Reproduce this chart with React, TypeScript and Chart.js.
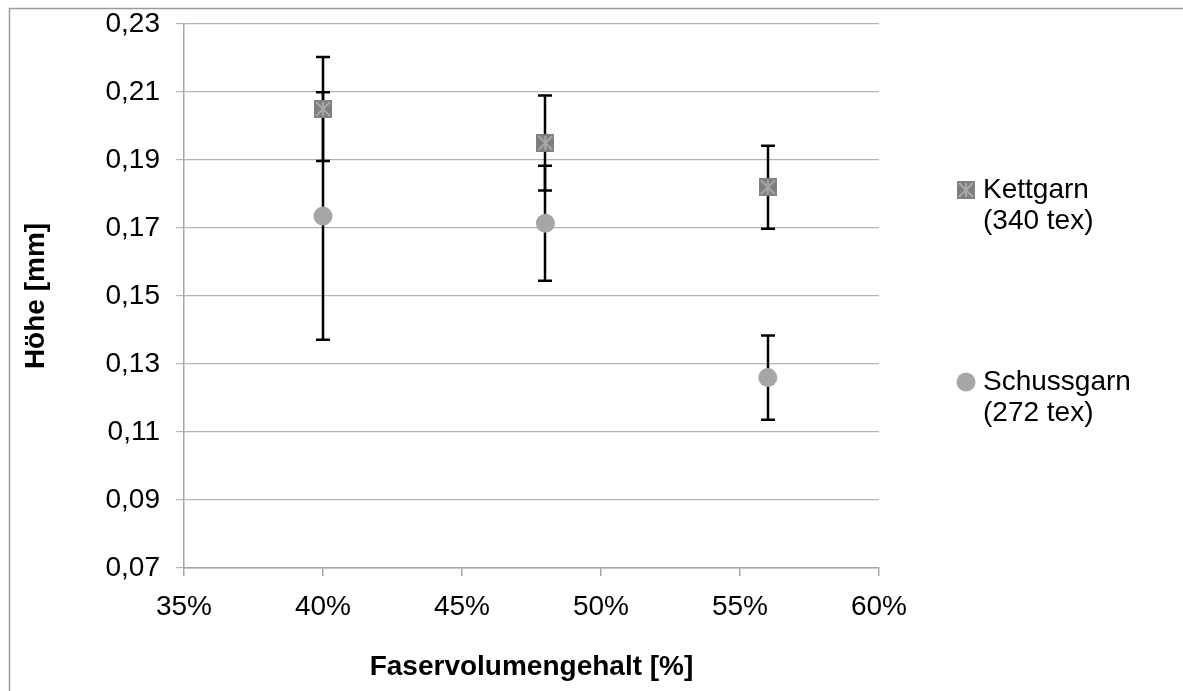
import React, { useEffect, useRef } from "react";
import { Chart, registerables } from "chart.js";

Chart.register(...registerables);

// ---- data ----
const faserGehalt = [40, 48, 56];
const kettgarnHoehe = [0.205, 0.195, 0.182];
const kettgarnFehler = [0.0153, 0.014, 0.0122];
const schussgarnHoehe = [0.1735, 0.1714, 0.126];
const schussgarnFehler = [0.0364, 0.0169, 0.0124];
const kettgarnLabel = ["Kettgarn", "(340 tex)"];
const schussgarnLabel = ["Schussgarn", "(272 tex)"];
const xTicks = [35, 40, 45, 50, 55, 60];
const yTicks = [0.07, 0.09, 0.11, 0.13, 0.15, 0.17, 0.19, 0.21, 0.23];
const xTitle = "Faservolumengehalt [%]";
const yTitle = "Höhe [mm]";

const FONT = "'Liberation Sans', Helvetica, Arial, sans-serif";
const GRID = "#b4b4b4";
const AXIS = "#a6a6a6";

function makeKettMarker(size: number): HTMLCanvasElement {
  const c = document.createElement("canvas");
  c.width = size;
  c.height = size;
  const g = c.getContext("2d")!;
  g.fillStyle = "#7f7f7f";
  g.fillRect(0, 0, size, size);
  g.strokeStyle = "#a8a8a8";
  g.lineWidth = 2;
  g.beginPath();
  g.moveTo(2, 2);
  g.lineTo(size - 2, size - 2);
  g.moveTo(size - 2, 2);
  g.lineTo(2, size - 2);
  g.moveTo(size / 2, 2);
  g.lineTo(size / 2, size - 2);
  g.stroke();
  return c;
}

const errorBarPlugin = {
  id: "errorBars",
  beforeDatasetsDraw(chart: any) {
    const { ctx, scales } = chart;
    const x = scales.x;
    const y = scales.y;
    ctx.save();
    ctx.strokeStyle = "#000";
    ctx.lineWidth = 2.5;
    chart.data.datasets.forEach((ds: any) => {
      ds.data.forEach((p: any, i: number) => {
        const e = ds.errors[i];
        const px = Math.round(x.getPixelForValue(p.x));
        const yt = y.getPixelForValue(p.y + e);
        const yb = y.getPixelForValue(p.y - e);
        ctx.beginPath();
        ctx.moveTo(px, yt);
        ctx.lineTo(px, yb);
        ctx.moveTo(px - 7, yt);
        ctx.lineTo(px + 7, yt);
        ctx.moveTo(px - 7, yb);
        ctx.lineTo(px + 7, yb);
        ctx.stroke();
      });
    });
    ctx.restore();
  },
};

const framePlugin = {
  id: "frame",
  afterDraw(chart: any) {
    const { ctx, width, height } = chart;
    ctx.save();
    ctx.strokeStyle = "#9a9a9a";
    ctx.lineWidth = 1.5;
    ctx.beginPath();
    ctx.moveTo(9.5, height + 5);
    ctx.lineTo(9.5, 8.5);
    ctx.lineTo(width + 5, 8.5);
    ctx.stroke();
    ctx.restore();
  },
};

const legendPlugin = {
  id: "customLegend",
  afterDraw(chart: any) {
    const { ctx, chartArea } = chart;
    const mx = chartArea.right + 87;
    const tx = chartArea.right + 104;
    const rows = [
      { y: 190, ds: chart.data.datasets[0] },
      { y: 382, ds: chart.data.datasets[1] },
    ];
    ctx.save();
    ctx.font = `28px ${FONT}`;
    ctx.fillStyle = "#000";
    ctx.textBaseline = "middle";
    ctx.textAlign = "left";
    rows.forEach((r) => {
      const ds = r.ds;
      if (ds.pointStyle instanceof HTMLCanvasElement) {
        const img = ds.pointStyle as HTMLCanvasElement;
        ctx.drawImage(img, mx - img.width / 2, r.y - img.height / 2);
      } else {
        ctx.fillStyle = ds.backgroundColor;
        ctx.beginPath();
        ctx.arc(mx, r.y, ds.pointRadius, 0, Math.PI * 2);
        ctx.fill();
        ctx.fillStyle = "#000";
      }
      (ds.legendLines as string[]).forEach((line, k) => {
        ctx.fillText(line, tx, r.y + k * 31);
      });
    });
    ctx.restore();
  },
};

export default function App() {
  const ref = useRef<HTMLCanvasElement | null>(null);

  useEffect(() => {
    if (!ref.current) return;
    const kettMarker = makeKettMarker(18);
    const chart = new Chart(ref.current, {
      type: "scatter",
      data: {
        datasets: [
          {
            label: kettgarnLabel.join(" "),
            data: faserGehalt.map((x, i) => ({ x, y: kettgarnHoehe[i] })),
            errors: kettgarnFehler,
            legendLines: kettgarnLabel,
            pointStyle: kettMarker,
            pointRadius: 9,
            backgroundColor: "#7f7f7f",
            borderWidth: 0,
            showLine: false,
          } as any,
          {
            label: schussgarnLabel.join(" "),
            data: faserGehalt.map((x, i) => ({ x, y: schussgarnHoehe[i] })),
            errors: schussgarnFehler,
            legendLines: schussgarnLabel,
            pointStyle: "circle",
            pointRadius: 9.5,
            backgroundColor: "#a6a6a6",
            borderWidth: 0,
            showLine: false,
          } as any,
        ],
      },
      options: {
        responsive: false,
        animation: false,
        events: [],
        layout: { padding: { left: 0, right: 304, top: 24, bottom: 0 } },
        plugins: {
          legend: { display: false },
          tooltip: { enabled: false },
          title: { display: false },
        },
        scales: {
          x: {
            type: "linear",
            min: 35,
            max: 60,
            afterBuildTicks: (s: any) => {
              s.ticks = xTicks.map((v) => ({ value: v }));
            },
            afterFit: (s: any) => {
              s.height = 123;
              s.paddingLeft = 0;
              s.paddingRight = 0;
            },
            grid: {
              drawOnChartArea: false,
              drawTicks: true,
              tickLength: 8,
              color: AXIS,
              lineWidth: 1.5,
            },
            border: { display: true, color: AXIS, width: 1.5 },
            ticks: {
              color: "#000",
              font: { family: FONT, size: 28 },
              padding: 14,
              maxRotation: 0,
              callback: (v: any) => `${v}%`,
            },
            title: {
              display: true,
              text: xTitle,
              color: "#000",
              font: { family: FONT, size: 28, weight: "bold" },
              padding: { top: 0, bottom: 7 },
            },
          },
          y: {
            type: "linear",
            min: 0.07,
            max: 0.23,
            afterBuildTicks: (s: any) => {
              s.ticks = yTicks.map((v) => ({ value: v }));
            },
            afterFit: (s: any) => {
              s.width = 184;
              s.paddingTop = 0;
              s.paddingBottom = 0;
            },
            grid: {
              drawOnChartArea: true,
              drawTicks: true,
              tickLength: 8,
              color: GRID,
              lineWidth: 1.2,
            },
            border: { display: true, color: AXIS, width: 1.5 },
            ticks: {
              color: "#000",
              font: { family: FONT, size: 28 },
              padding: 16,
              callback: (v: any) => Number(v).toFixed(2).replace(".", ","),
            },
            title: {
              display: true,
              text: yTitle,
              color: "#000",
              font: { family: FONT, size: 28, weight: "bold" },
              padding: { top: 19, bottom: 0 },
            },
          },
        },
      } as any,
      plugins: [errorBarPlugin, legendPlugin, framePlugin],
    });
    return () => chart.destroy();
  }, []);

  return (
    <div style={{ position: "absolute", left: 0, top: 0, width: 1183, height: 691, background: "#fff" }}>
      <canvas ref={ref} width={1183} height={691} style={{ display: "block" }} />
    </div>
  );
}
